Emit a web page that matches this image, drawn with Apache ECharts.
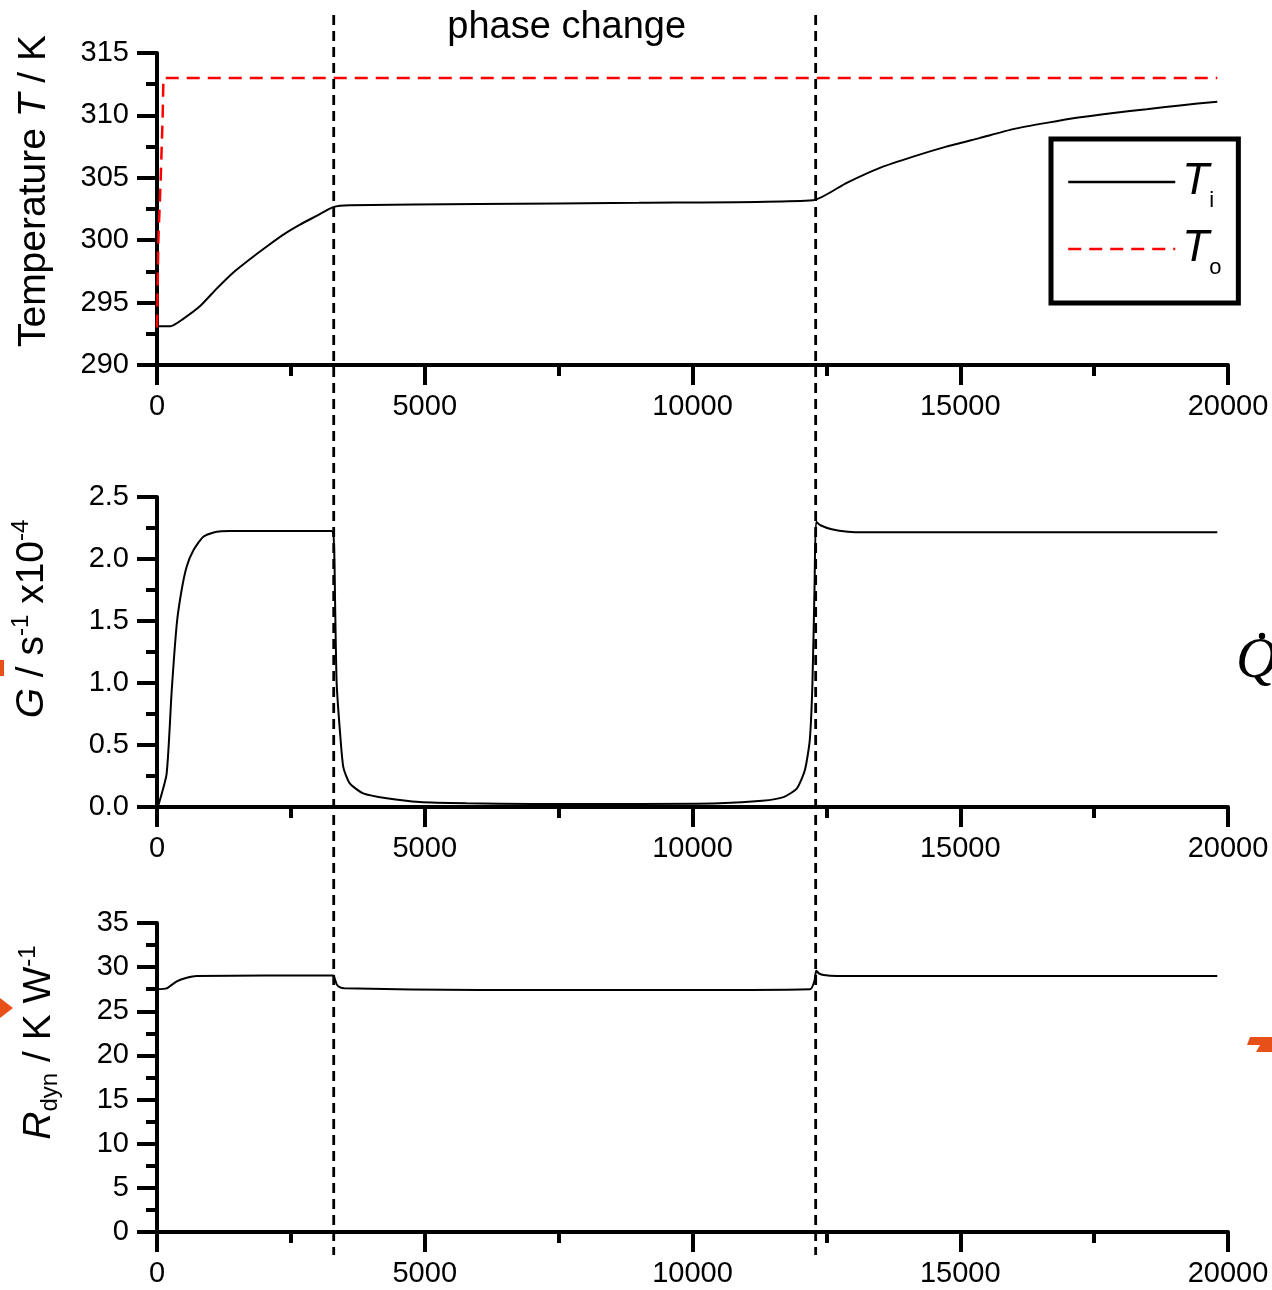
<!DOCTYPE html>
<html><head><meta charset="utf-8">
<script src="https://cdn.jsdelivr.net/npm/echarts@6/dist/echarts.min.js"></script>
<style>html,body{margin:0;padding:0;background:#fff}#c{width:1272px;height:1290px}</style>
</head><body><div id="c"></div>
<script>
// ---------------- data ----------------
const xMin = 0, xMax = 20000, xStep = 5000;
const phaseStart = 3300, phaseEnd = 12300;

const tTi = [0, 250, 490, 800, 1110, 1420, 1740, 2050, 2360, 2670, 2980, 3290, 3600, 6000, 9000, 12250, 12880, 13500, 14120, 14740, 15370, 15990, 16610, 17240, 17860, 18480, 19100, 19800];
const Ti  = [293.1, 293.1, 293.7, 294.7, 296.1, 297.4, 298.5, 299.5, 300.45, 301.25, 301.95, 302.65, 302.8, 302.9, 303.0, 303.2, 304.6, 305.8, 306.7, 307.5, 308.2, 308.9, 309.4, 309.85, 310.2, 310.5, 310.8, 311.1];

const tTo = [0, 25, 70, 106, 120, 19800];
const To  = [293, 300, 305, 310, 313, 313];

const tG = [0, 30, 180, 275, 370, 460, 555, 680, 865, 1115, 1360, 3260, 3305, 3325, 3355, 3420, 3480, 3600, 3850, 4290, 4910, 5780, 7000, 9000, 10500, 11300, 11700, 11950, 12100, 12190, 12240, 12280, 12310, 12400, 12600, 12900, 13200, 19800];
const G  = [0, 0.02, 0.27, 0.94, 1.48, 1.75, 1.94, 2.07, 2.18, 2.22, 2.225, 2.225, 2.12, 1.67, 1.0, 0.59, 0.32, 0.19, 0.11, 0.07, 0.04, 0.03, 0.025, 0.025, 0.03, 0.05, 0.08, 0.15, 0.3, 0.54, 1.0, 1.8, 2.3, 2.27, 2.24, 2.22, 2.215, 2.215];

const tR = [0, 180, 370, 555, 740, 3290, 3330, 3360, 3420, 3500, 6000, 9000, 12200, 12280, 12310, 12360, 12450, 12700, 19800];
const R  = [27.5, 27.6, 28.4, 28.8, 29.0, 29.05, 28.5, 28.0, 27.7, 27.6, 27.4, 27.4, 27.5, 28.5, 29.6, 29.3, 29.1, 29.0, 29.0];

const yRanges = [
  {min: 290, max: 315, interval: 5},
  {min: 0, max: 2.5, interval: 0.5},
  {min: 0, max: 35, interval: 5}
];

// ---------------- helpers ----------------
const zip = (xs, ys) => xs.map((x, i) => [x, ys[i]]);
const FONT = '"Liberation Sans", Arial, sans-serif';
const black = '#000';

const gridTops = [53, 497, 923];
const gridHeights = [312, 310, 309];

function xAxis(i) {
  return {
    type: 'value', gridIndex: i, min: xMin, max: xMax, interval: xStep,
    axisLine: {show: true, onZero: false, lineStyle: {color: black, width: 4}},
    axisTick: {show: true, inside: false, length: 20, lineStyle: {color: black, width: 4}},
    minorTick: {show: true, splitNumber: 2, length: 11, lineStyle: {color: black, width: 4}},
    splitLine: {show: false},
    axisLabel: {fontSize: 29, fontFamily: FONT, color: black, margin: 27, formatter: v => String(v)}
  };
}

const richBase = {
  n: {fontSize: 39, fontFamily: FONT, color: black, lineHeight: 46},
  i: {fontSize: 39, fontFamily: FONT, fontStyle: 'italic', color: black, lineHeight: 46},
  sup: {fontSize: 24, fontFamily: FONT, color: black, verticalAlign: 'top', lineHeight: 24},
  sub: {fontSize: 24, fontFamily: FONT, color: black, verticalAlign: 'bottom', lineHeight: 24}
};

function yAxis(i, name, shiftPad, gap, fmt) {
  const r = yRanges[i];
  return {
    type: 'value', gridIndex: i, min: r.min, max: r.max, interval: r.interval,
    name: name, nameLocation: 'middle', nameRotate: 90, nameGap: gap,
    nameTextStyle: {fontSize: 39, fontFamily: FONT, color: black, rich: richBase, padding: [0, 0, 0, shiftPad]},
    axisLine: {show: true, onZero: false, lineStyle: {color: black, width: 4}},
    axisTick: {show: true, inside: false, length: 20, lineStyle: {color: black, width: 4}},
    minorTick: {show: true, splitNumber: 2, length: 11, lineStyle: {color: black, width: 4}},
    splitLine: {show: false},
    axisLabel: {fontSize: 29, fontFamily: FONT, color: black, margin: 28, formatter: fmt}
  };
}

const chart = echarts.init(document.getElementById('c'), null, {renderer: 'canvas'});

const option = {
  animation: false,
  backgroundColor: '#fff',
  textStyle: {fontFamily: FONT},
  grid: gridTops.map((t, i) => ({left: 157, right: 44, top: t, height: gridHeights[i], containLabel: false, outerBoundsMode: 'none'})),
  xAxis: [xAxis(0), xAxis(1), xAxis(2)],
  yAxis: [
    yAxis(0, '{n|Temperature }{i|T}{n| / K}', 36, 100, v => String(v)),
    yAxis(1, '{i|G}{n| / s}{sup|-1}{n| x10}{sup|-4}', 66, 102, v => v.toFixed(1)),
    yAxis(2, '{i|R}{sub|dyn}{n| / K W}{sup|-1}', 70, 95, v => String(v))
  ],
  legend: {
    data: ['Ti', 'To'], orient: 'vertical', left: 1051, top: 139,
    padding: [21, 17, 24, 16], itemGap: 15, itemWidth: 107, itemHeight: 14,
    borderColor: black, borderWidth: 5, borderRadius: 0, backgroundColor: '#fff',
    itemStyle: {opacity: 0},
    lineStyle: {width: 2.5},
    formatter: n => n === 'Ti' ? '{t|T}{s|i}' : '{t|T}{s|o}',
    textStyle: {
      rich: {
        t: {fontSize: 44, fontStyle: 'italic', fontFamily: FONT, color: black, lineHeight: 60, padding: [0, 0, 0, 2]},
        s: {fontSize: 22, fontFamily: FONT, color: black, verticalAlign: 'bottom', lineHeight: 22}
      }
    }
  },
  series: [
    {name: 'Ti', type: 'line', xAxisIndex: 0, yAxisIndex: 0, data: zip(tTi, Ti), symbol: 'none', smooth: 0.2,
     lineStyle: {color: black, width: 2}, itemStyle: {color: black}, z: 3},
    {name: 'To', type: 'line', xAxisIndex: 0, yAxisIndex: 0, data: zip(tTo, To), symbol: 'none',
     lineStyle: {color: '#ff0000', width: 2.5, type: [13, 8]}, itemStyle: {color: '#ff0000'}, z: 4},
    {name: 'G', type: 'line', xAxisIndex: 1, yAxisIndex: 1, data: zip(tG, G), symbol: 'none', smooth: 0.2,
     lineStyle: {color: black, width: 2}, itemStyle: {color: black}},
    {name: 'R', type: 'line', xAxisIndex: 2, yAxisIndex: 2, data: zip(tR, R), symbol: 'none', smooth: 0.2,
     lineStyle: {color: black, width: 2}, itemStyle: {color: black}}
  ]
};
chart.setOption(option);

const px1 = chart.convertToPixel({xAxisIndex: 0}, phaseStart);
const px2 = chart.convertToPixel({xAxisIndex: 0}, phaseEnd);
const orange = '#e8501a';
chart.setOption({
  graphic: [
    {type: 'line', z: 20, shape: {x1: px1, y1: 15, x2: px1, y2: 1255}, style: {stroke: black, lineWidth: 2.8, lineDash: [10, 6]}},
    {type: 'line', z: 20, shape: {x1: px2, y1: 15, x2: px2, y2: 1255}, style: {stroke: black, lineWidth: 2.8, lineDash: [10, 6]}},
    {type: 'text', z: 20, x: (px1 + px2) / 2 - 8, y: 28, style: {text: 'phase change', fontSize: 38, fontFamily: FONT, fill: black, align: 'center', verticalAlign: 'middle'}},
    {type: 'text', z: 20, x: 1236, y: 634, style: {text: 'Q', fontSize: 57, fontStyle: 'italic', fontFamily: '"Liberation Serif", serif', fill: black, align: 'left', verticalAlign: 'top'}},
    {type: 'circle', z: 20, shape: {cx: 1262, cy: 636, r: 3.2}, style: {fill: black}},
    {type: 'polygon', z: 20, shape: {points: [[0, 998], [13, 1008], [0, 1018]]}, style: {fill: orange}},
    {type: 'rect', z: 20, shape: {x: 0, y: 660, width: 4, height: 16}, style: {fill: orange}},
    {type: 'polygon', z: 20, shape: {points: [[1250, 1037], [1272, 1037], [1272, 1052], [1256, 1052], [1260, 1045], [1247, 1045]]}, style: {fill: orange}}
  ]
});
</script></body></html>
